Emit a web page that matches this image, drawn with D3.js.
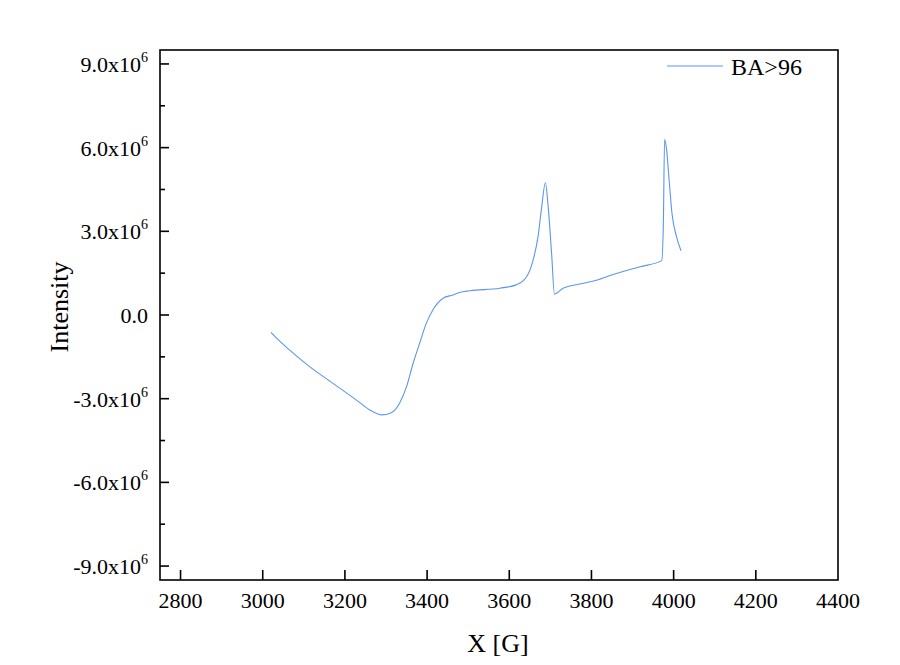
<!DOCTYPE html>
<html><head><meta charset="utf-8">
<script src="https://cdn.jsdelivr.net/npm/d3@7"></script>
<style>body{margin:0;background:#fff}svg{display:block}text{font-family:"Liberation Serif","Times New Roman",serif;fill:#000}</style>
</head><body><svg id="c" width="900" height="665"></svg>
<script>
const xValues = [3020,3040,3065,3114,3171,3228,3260,3289,3313,3333,3350,3366,3382,3398,3414,3439,3463,3479,3504,3577,3617,3642,3658,3670,3678,3688,3694,3703,3710,3731,3747,3772,3820,3837,3918,3971,3975,3978,3983,3989,3996,4007,4018];
const yValues = [-0.62,-0.92,-1.25,-1.85,-2.45,-3.05,-3.40,-3.58,-3.50,-3.16,-2.57,-1.73,-1.01,-0.30,0.18,0.60,0.72,0.81,0.87,0.96,1.08,1.37,1.97,2.81,3.76,4.74,4.00,2.21,0.75,0.96,1.04,1.11,1.28,1.37,1.73,1.95,3.29,6.30,5.91,4.84,3.64,2.81,2.30];
const seriesName = "BA>96";
const xTicks = [2800,3000,3200,3400,3600,3800,4000,4200,4400];
const yTicksMajor = [-9,-6,-3,0,3,6,9];
const yTicksMinor = [-7.5,-4.5,-1.5,1.5,4.5,7.5];
const yTickLabels = ["-9.0x10","-6.0x10","-3.0x10","0.0","3.0x10","6.0x10","9.0x10"];

const svg = d3.select("#c");
const L=160,R=838,T=50,B=580;
const x = d3.scaleLinear().domain([2750,4400]).range([L,R]);
const y = d3.scaleLinear().domain([-9.5,9.5]).range([B,T]);
const data = xValues.map((v,i)=>({x:v,y:yValues[i]}));

// curve
svg.append("path").datum(data)
  .attr("fill","none").attr("stroke","#5a96f0").attr("stroke-width",1.1)
  .attr("d", d3.line().x(d=>x(d.x)).y(d=>y(d.y)).curve(d3.curveMonotoneX));

// frame
svg.append("rect").attr("x",L).attr("y",T).attr("width",R-L).attr("height",B-T)
  .attr("fill","none").attr("stroke","#000").attr("stroke-width",1.6);

// x ticks
const gx = svg.append("g");
xTicks.forEach(t=>{
  if (t>2750 && t<4400) gx.append("line").attr("x1",x(t)).attr("x2",x(t)).attr("y1",B).attr("y2",B-10).attr("stroke","#000").attr("stroke-width",1.6);
  gx.append("text").attr("x",x(t)).attr("y",608).attr("text-anchor","middle").attr("font-size",22).text(t);
});
// y ticks
const gy = svg.append("g");
yTicksMajor.forEach((t,i)=>{
  gy.append("line").attr("x1",L).attr("x2",L+9).attr("y1",y(t)).attr("y2",y(t)).attr("stroke","#000").attr("stroke-width",1.6);
  const tx = gy.append("text").attr("x",148).attr("y",y(t)+8).attr("text-anchor","end").attr("font-size",22);
  tx.append("tspan").text(yTickLabels[i]);
  if (t!==0) tx.append("tspan").attr("font-size",14).attr("dy",-10).text("6");
});
yTicksMinor.forEach(t=>{
  gy.append("line").attr("x1",L).attr("x2",L+5).attr("y1",y(t)).attr("y2",y(t)).attr("stroke","#000").attr("stroke-width",1.6);
});

// axis titles
svg.append("text").attr("x",498).attr("y",652).attr("text-anchor","middle").attr("font-size",26).text("X [G]");
svg.append("text").attr("transform","translate(68,307) rotate(-90)").attr("text-anchor","middle").attr("font-size",26).text("Intensity");

// legend
svg.append("line").attr("x1",667).attr("x2",723).attr("y1",66).attr("y2",66).attr("stroke","#5a96f0").attr("stroke-width",1.1);
svg.append("text").attr("x",731).attr("y",75).attr("font-size",24).text(seriesName);
</script></body></html>
